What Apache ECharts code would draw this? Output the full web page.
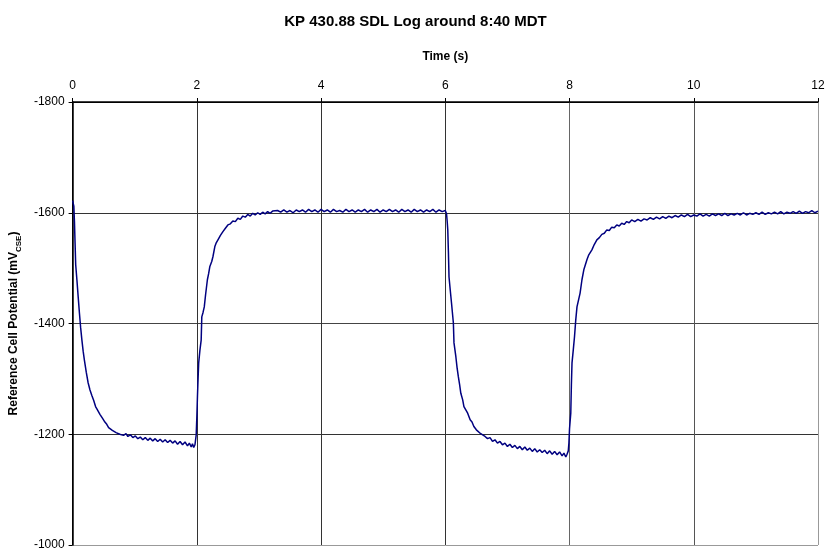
<!DOCTYPE html>
<html>
<head>
<meta charset="utf-8">
<script src="https://cdn.jsdelivr.net/npm/echarts@6/dist/echarts.min.js"></script>
<style>
  html, body { margin: 0; padding: 0; background: #fff; }
  #chart { width: 831px; height: 556px; }
</style>
</head>
<body>
<div id="chart"></div>
<script>
// axis ticks
let timeTicks = [0, 2, 4, 6, 8, 10, 12];
let potentialTicks = [-1800, -1600, -1400, -1200, -1000];

let firstDrop = [
  [0.00,-1622],[0.01,-1620],[0.02,-1612],[0.03,-1584],[0.04,-1545],[0.05,-1506],[0.07,-1478],
  [0.09,-1448],[0.11,-1419],[0.13,-1392],[0.15,-1370],[0.17,-1350],[0.19,-1334],[0.22,-1312],
  [0.25,-1293],[0.28,-1280],[0.31,-1270],[0.34,-1261],[0.37,-1250],[0.40,-1244],[0.44,-1236],
  [0.48,-1229],[0.52,-1222],[0.55,-1218],[0.58,-1212],[0.61,-1214],[0.64,-1207],[0.67,-1210],
  [0.70,-1203],[0.73,-1206],[0.76,-1200],[0.79,-1203],[0.82,-1198],[0.86,-1201],[0.89,-1196],
  [0.93,-1199],[0.97,-1194],[1.01,-1197],[1.05,-1192],[1.09,-1195],[1.13,-1190],[1.17,-1194],
  [1.21,-1189],[1.25,-1193],[1.29,-1188],[1.33,-1192],[1.37,-1187],[1.41,-1191],[1.45,-1186],
  [1.49,-1190],[1.53,-1185],[1.57,-1189],[1.61,-1184],[1.65,-1188],[1.69,-1182],[1.73,-1187],
  [1.77,-1181],[1.81,-1186],[1.85,-1179],[1.88,-1184],[1.91,-1177],[1.93,-1183],[1.95,-1176],
  [1.97,-1181]
];

let firstRise = [
  [1.99,-1199],[2.00,-1230],[2.01,-1268],[2.02,-1300],[2.03,-1329],[2.05,-1352],[2.07,-1370],
  [2.08,-1412],[2.10,-1420],[2.12,-1430],[2.14,-1451],[2.17,-1479],[2.19,-1490],[2.21,-1503],
  [2.24,-1512],[2.26,-1521],[2.29,-1539],[2.31,-1545],[2.34,-1551],[2.38,-1559],[2.42,-1566],
  [2.46,-1572],[2.50,-1578],[2.54,-1580],[2.58,-1585],[2.62,-1584],[2.66,-1590],[2.70,-1588],
  [2.74,-1594],[2.78,-1592],[2.82,-1597],[2.86,-1594],[2.90,-1599],[2.94,-1596],[2.98,-1600],
  [3.02,-1597],[3.06,-1601],[3.10,-1598],[3.14,-1602],[3.18,-1599],[3.22,-1603],
  [3.25,-1600],[3.30,-1604],[3.35,-1601],[3.40,-1605],[3.45,-1601],[3.50,-1604],[3.55,-1600],
  [3.60,-1605],[3.65,-1602],[3.70,-1605],[3.75,-1601],[3.80,-1606],[3.85,-1602],[3.90,-1605],
  [3.95,-1601],[4.00,-1606],[4.05,-1602],[4.10,-1605],[4.15,-1601],[4.20,-1606],[4.25,-1602],
  [4.30,-1604],[4.35,-1601],[4.40,-1606],[4.45,-1602],[4.50,-1605],[4.55,-1601],[4.60,-1605],
  [4.65,-1602],[4.70,-1606],[4.75,-1601],[4.80,-1605],[4.85,-1602],[4.90,-1606],[4.95,-1601],
  [5.00,-1605],[5.05,-1602],[5.10,-1606],[5.15,-1602],[5.20,-1605],[5.25,-1601],[5.30,-1606],
  [5.35,-1602],[5.40,-1605],[5.45,-1601],[5.50,-1606],[5.55,-1602],[5.60,-1605],[5.65,-1601],
  [5.70,-1605],[5.75,-1602],[5.80,-1606],[5.85,-1601],[5.90,-1605],[5.95,-1602],[6.00,-1604],
  [6.01,-1601]
];

let secondDrop = [
  [6.02,-1598],[6.03,-1585],[6.04,-1569],[6.05,-1530],[6.06,-1484],[6.08,-1460],[6.10,-1437],
  [6.13,-1401],[6.14,-1365],[6.17,-1340],[6.19,-1320],[6.21,-1304],[6.23,-1290],[6.25,-1274],
  [6.28,-1262],[6.30,-1250],[6.33,-1244],[6.36,-1238],[6.40,-1226],[6.43,-1222],[6.46,-1214],
  [6.50,-1208],[6.53,-1207],[6.57,-1201],[6.60,-1199],[6.64,-1196],[6.68,-1192],[6.72,-1194],
  [6.76,-1187],[6.80,-1190],[6.84,-1184],[6.88,-1187],[6.92,-1181],[6.96,-1184],[7.00,-1178],
  [7.04,-1182],[7.08,-1176],[7.12,-1180],[7.16,-1174],[7.20,-1178],[7.24,-1172],[7.28,-1177],
  [7.32,-1171],[7.36,-1175],[7.40,-1169],[7.44,-1174],[7.48,-1168],[7.52,-1172],[7.56,-1167],
  [7.60,-1171],[7.64,-1165],[7.68,-1170],[7.72,-1164],[7.76,-1169],[7.80,-1163],[7.84,-1168],
  [7.88,-1161],[7.91,-1166],[7.94,-1159],[7.96,-1164]
];

let secondRise = [
  [7.98,-1170],[7.99,-1184],[8.00,-1210],[8.02,-1238],[8.03,-1290],[8.04,-1329],[8.06,-1352],
  [8.08,-1376],[8.10,-1406],[8.12,-1430],[8.15,-1445],[8.17,-1455],[8.20,-1479],[8.23,-1497],
  [8.26,-1508],[8.28,-1515],[8.31,-1524],[8.33,-1527],[8.36,-1533],[8.40,-1543],[8.44,-1551],
  [8.48,-1555],[8.52,-1561],[8.56,-1563],[8.60,-1569],[8.64,-1568],[8.68,-1574],[8.72,-1573],
  [8.76,-1578],[8.80,-1576],[8.84,-1581],[8.88,-1579],[8.92,-1584],[8.96,-1582],[9.00,-1587],
  [9.05,-1584],[9.10,-1588],[9.15,-1585],[9.20,-1589],[9.25,-1587],[9.30,-1591],[9.35,-1588],
  [9.40,-1592],[9.45,-1589],[9.50,-1593],[9.55,-1590],[9.60,-1594],[9.65,-1591],[9.70,-1595],
  [9.75,-1592],[9.80,-1596],[9.85,-1593],[9.90,-1597],[9.95,-1593],[10.00,-1596],[10.05,-1594],
  [10.10,-1598],[10.15,-1594],[10.20,-1597],[10.25,-1594],[10.30,-1598],[10.35,-1595],[10.40,-1598],
  [10.45,-1595],[10.50,-1599],[10.55,-1595],[10.60,-1598],[10.65,-1596],[10.70,-1599],[10.75,-1596],
  [10.80,-1600],[10.85,-1596],[10.90,-1599],[10.95,-1597],[11.00,-1600],[11.05,-1597],[11.10,-1601],
  [11.15,-1597],[11.20,-1600],[11.25,-1598],[11.30,-1601],[11.35,-1598],[11.40,-1602],[11.45,-1598],
  [11.50,-1601],[11.55,-1599],[11.60,-1602],[11.65,-1599],[11.70,-1603],[11.75,-1599],[11.80,-1602],
  [11.85,-1600],[11.90,-1604],[11.95,-1600],[12.00,-1603]
];

let logData = firstDrop.concat(firstRise, secondDrop, secondRise);

let chart = echarts.init(document.getElementById('chart'));
let font = 'Liberation Sans, Arial, sans-serif';

let option = {
  animation: false,
  backgroundColor: '#fff',
  title: {
    text: 'KP 430.88 SDL Log around 8:40 MDT',
    left: 'center',
    top: 9,
    textStyle: { fontFamily: font, fontSize: 15, fontWeight: 'bold', color: '#000' }
  },
  grid: { left: 71, right: 13, top: 102, bottom: 11, containLabel: false },
  xAxis: {
    type: 'value',
    position: 'top',
    min: timeTicks[0],
    max: timeTicks[timeTicks.length - 1],
    interval: 2,
    name: 'Time (s)',
    nameLocation: 'middle',
    nameGap: 39,
    nameTextStyle: { fontFamily: font, fontSize: 12, fontWeight: 'bold', color: '#000' },
    axisLine: { show: true, lineStyle: { color: '#000', width: 1.5 } },
    axisTick: { show: true, length: 4, lineStyle: { color: '#000' } },
    axisLabel: { fontFamily: font, fontSize: 12, color: '#000', margin: 10 },
    splitLine: { show: true, lineStyle: { color: ['#000', '#333', '#333', '#333', '#666', '#555', '#999'], width: 1 } }
  },
  yAxis: {
    type: 'value',
    inverse: true,
    min: potentialTicks[0],
    max: potentialTicks[potentialTicks.length - 1],
    interval: 200,
    name: '{a|Reference Cell Potential (mV}{s|CSE}{a|)}',
    nameLocation: 'middle',
    nameGap: 46,
    nameRotate: 90,
    nameTextStyle: {
      rich: {
        a: { fontFamily: font, fontSize: 12, fontWeight: 'bold', color: '#000', lineHeight: 15, verticalAlign: 'bottom' },
        s: { fontFamily: font, fontSize: 8, fontWeight: 'bold', color: '#000', lineHeight: 15, verticalAlign: 'bottom', padding: [0, 0, -3, 0] }
      }
    },
    axisLine: { show: true, lineStyle: { color: '#000', width: 1.5 } },
    axisTick: { show: true, length: 4, lineStyle: { color: '#000' } },
    axisLabel: {
      fontFamily: font, fontSize: 12, color: '#000', margin: 8,
      formatter: function (v) { return String(v); }
    },
    splitLine: { show: true, lineStyle: { color: ['#000', '#333', '#444', '#333', '#999'], width: 1 } }
  },
  series: [{
    type: 'line',
    data: logData,
    showSymbol: false,
    symbol: 'none',
    lineStyle: { color: '#000080', width: 1.5 },
    z: 5
  }]
};

chart.setOption(option);
</script>
</body>
</html>
